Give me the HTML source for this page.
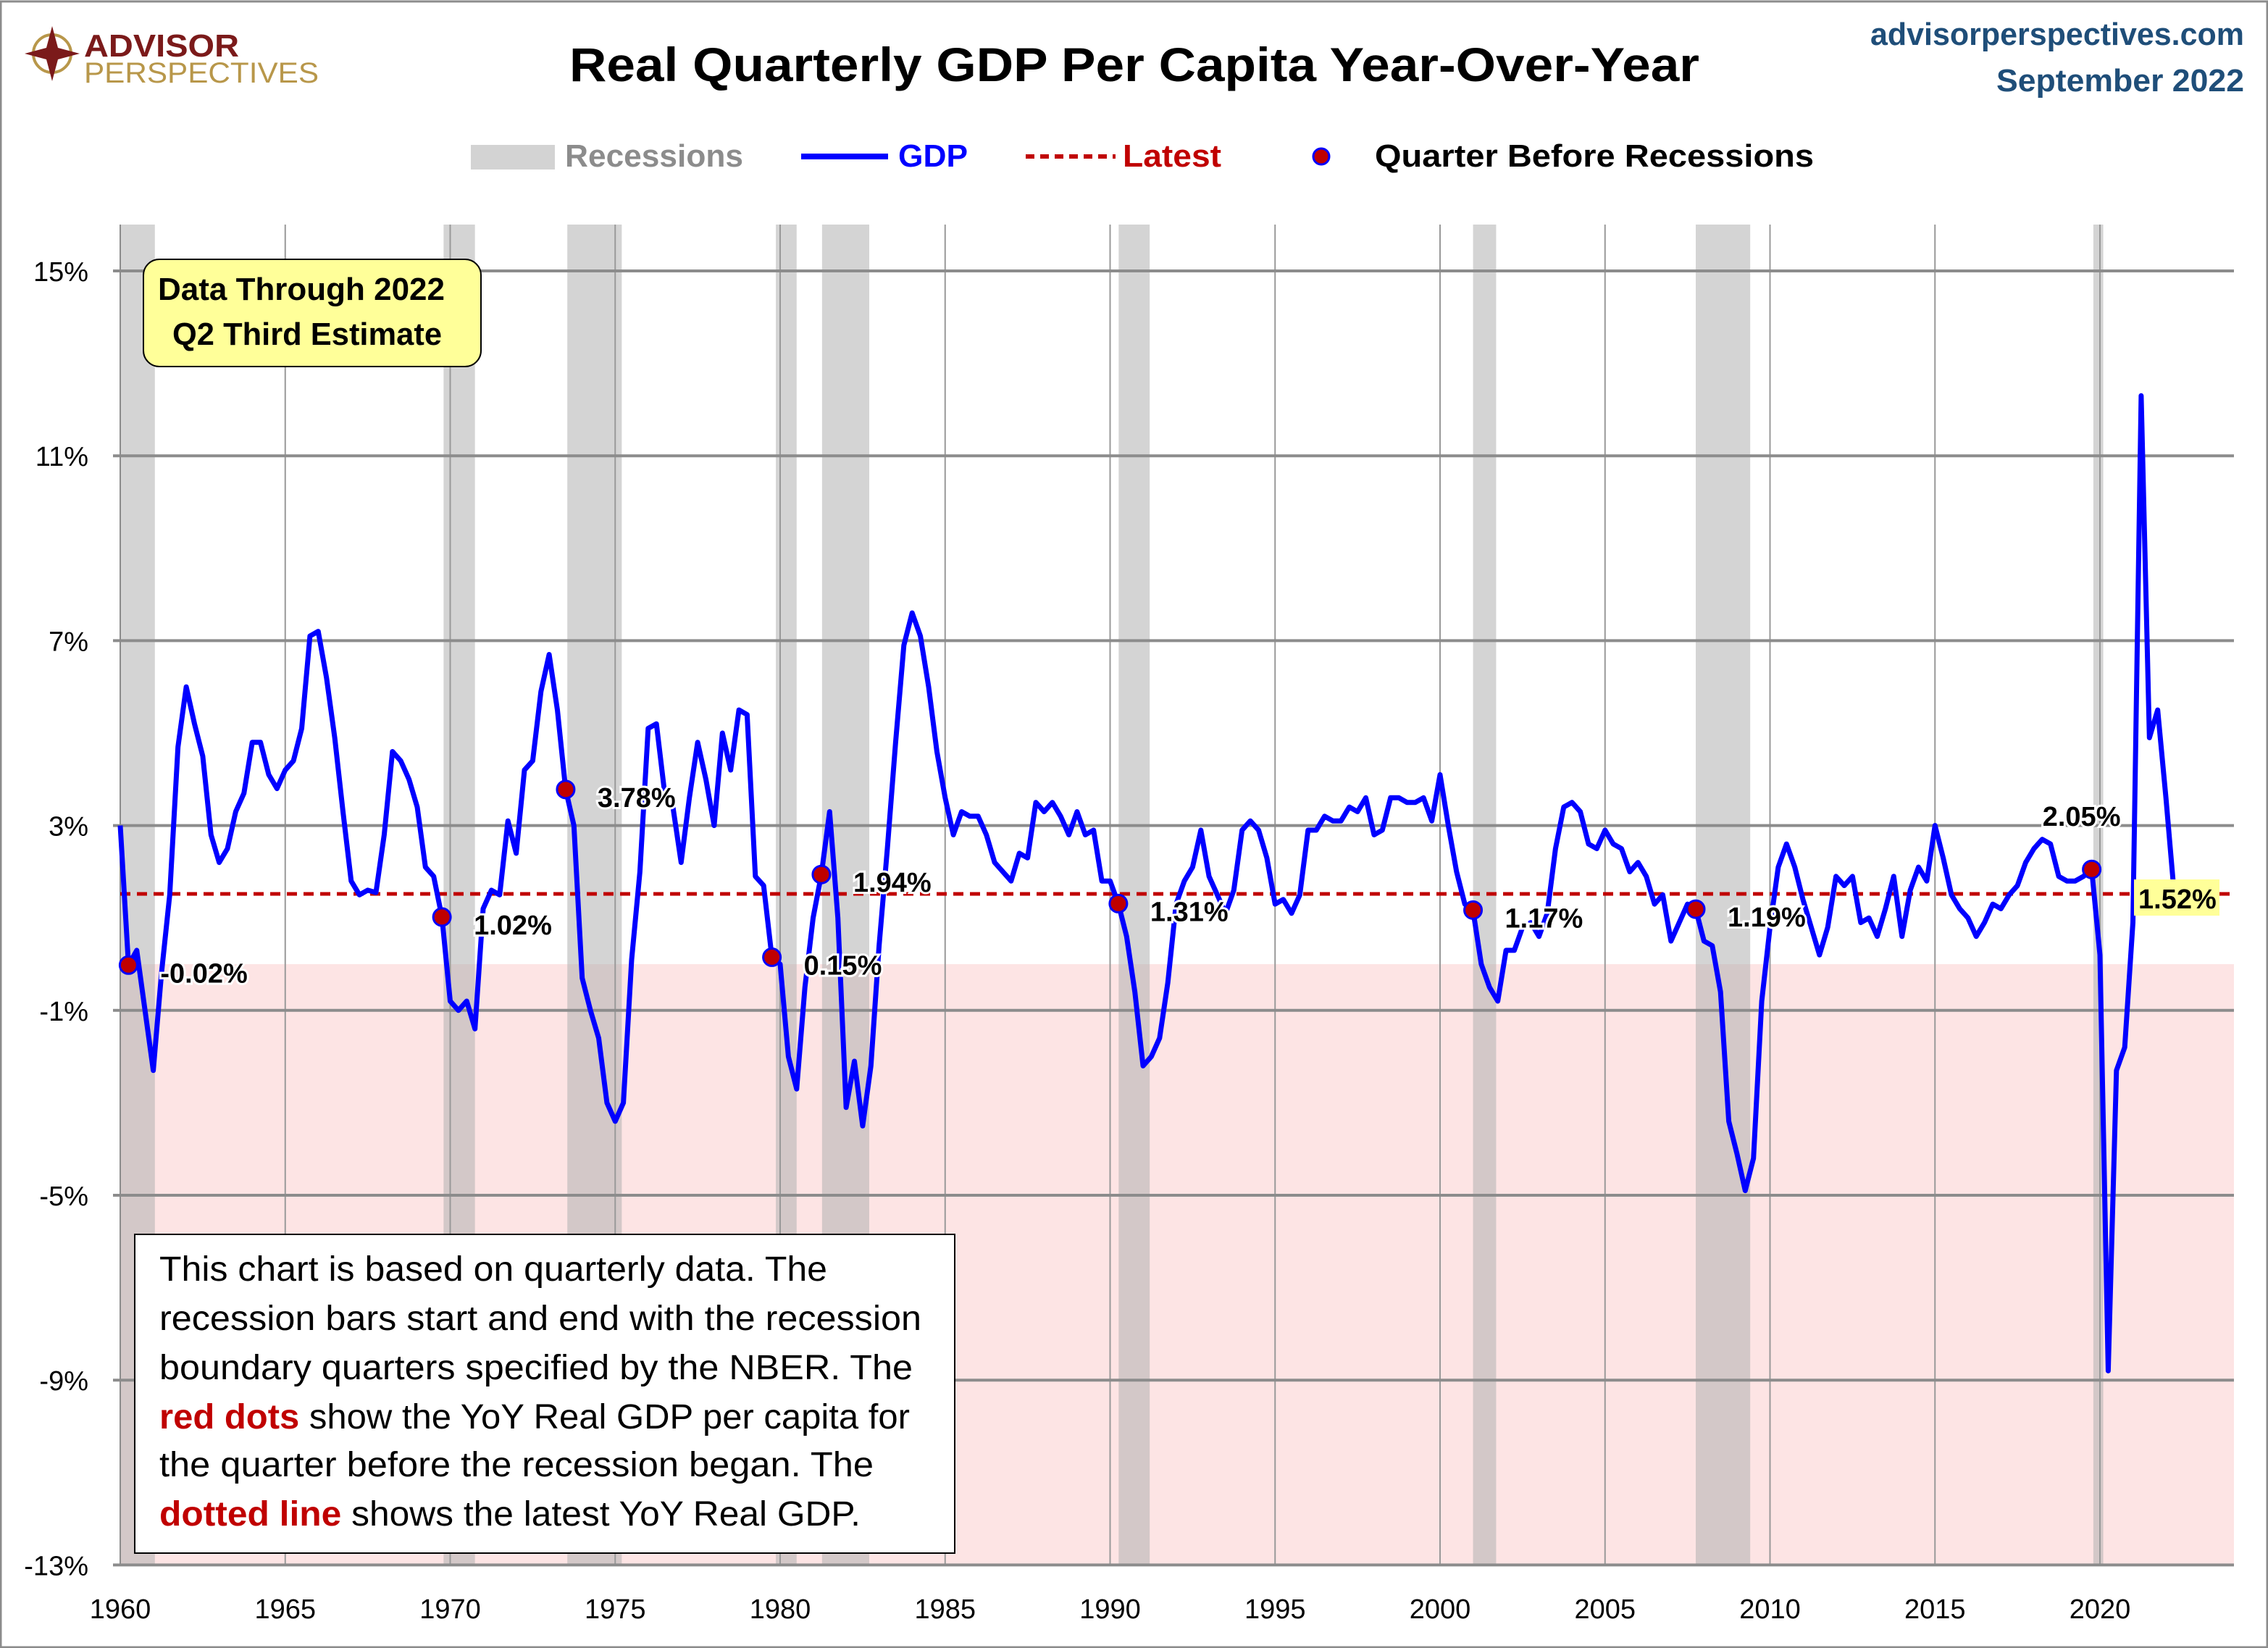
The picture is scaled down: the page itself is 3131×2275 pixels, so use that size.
<!DOCTYPE html>
<html><head><meta charset="utf-8"><style>
html,body{margin:0;padding:0;background:#fff}
svg{display:block}
text{font-family:"Liberation Sans",sans-serif}
</style></head><body>
<svg id="chart" xmlns="http://www.w3.org/2000/svg" width="3131" height="2275" viewBox="0 0 3131 2275">
<rect x="0" y="0" width="3131" height="2275" fill="#fff"/>
<rect x="1" y="2" width="3129" height="2272" fill="none" stroke="#8c8c8c" stroke-width="3"/>
<g>
  <circle cx="72" cy="74" r="26" fill="none" stroke="#b8974a" stroke-width="4"/>
  <polygon points="72,36 80,66 110,74 80,82 72,112 64,82 34,74 64,66" fill="#7b1a1a"/>
  <text x="116" y="78" font-size="44" font-weight="bold" fill="#7b1a1a" textLength="214" lengthAdjust="spacingAndGlyphs">ADVISOR</text>
  <text x="116" y="114" font-size="40" fill="#b8974a" textLength="324" lengthAdjust="spacingAndGlyphs">PERSPECTIVES</text>
</g>
<text x="1566" y="112" font-size="66" font-weight="bold" text-anchor="middle" textLength="1560" lengthAdjust="spacingAndGlyphs" fill="#000">Real Quarterly GDP Per Capita Year-Over-Year</text>
<text x="3098" y="62" font-size="44" font-weight="bold" text-anchor="end" fill="#1f4e79" textLength="516" lengthAdjust="spacingAndGlyphs">advisorperspectives.com</text>
<text x="3098" y="126" font-size="44" font-weight="bold" text-anchor="end" fill="#1f4e79" textLength="342" lengthAdjust="spacingAndGlyphs">September 2022</text>
<g>
  <g>
    <rect x="650" y="200" width="116" height="34" fill="#d3d3d3"/>
    <text x="780" y="230" font-size="44" font-weight="bold" fill="#8c8c8c" textLength="246" lengthAdjust="spacingAndGlyphs">Recessions</text>
  </g>
  <g>
    <line x1="1106" y1="216" x2="1226" y2="216" stroke="#0000ff" stroke-width="8"/>
    <text x="1240" y="230" font-size="44" font-weight="bold" fill="#0000ff" textLength="96" lengthAdjust="spacingAndGlyphs">GDP</text>
  </g>
  <g>
    <line x1="1416" y1="216" x2="1540" y2="216" stroke="#c00000" stroke-width="6" stroke-dasharray="12,8"/>
    <text x="1550" y="230" font-size="44" font-weight="bold" fill="#c00000" textLength="136" lengthAdjust="spacingAndGlyphs">Latest</text>
  </g>
  <g>
    <circle cx="1824" cy="216" r="11" fill="#c00000" stroke="#0000ff" stroke-width="3"/>
    <text x="1898" y="230" font-size="44" font-weight="bold" fill="#000" textLength="606" lengthAdjust="spacingAndGlyphs">Quarter Before Recessions</text>
  </g>
</g>
<g id="plot"></g>
<g>
  <rect x="198" y="358" width="466" height="148" rx="22" fill="#ffff99" stroke="#000" stroke-width="2"/>
  <text x="416" y="414" font-size="44" font-weight="bold" text-anchor="middle" textLength="396" lengthAdjust="spacingAndGlyphs">Data Through 2022</text>
  <text x="424" y="476" font-size="44" font-weight="bold" text-anchor="middle" textLength="372" lengthAdjust="spacingAndGlyphs">Q2 Third Estimate</text>
</g>
<g>
  <rect x="186" y="1704" width="1132" height="440" fill="#fff" stroke="#000" stroke-width="2"/>
  <text x="220" y="1768" font-size="48" textLength="922" lengthAdjust="spacingAndGlyphs">This chart is based on quarterly data. The</text>
  <text x="220" y="1836" font-size="48" textLength="1052" lengthAdjust="spacingAndGlyphs">recession bars start and end with the recession</text>
  <text x="220" y="1904" font-size="48" textLength="1040" lengthAdjust="spacingAndGlyphs">boundary quarters specified by the  NBER. The</text>
  <text x="220" y="1972" font-size="48" textLength="1036" lengthAdjust="spacingAndGlyphs"><tspan font-weight="bold" fill="#c00000">red dots</tspan> show the YoY Real GDP per capita for</text>
  <text x="220" y="2038" font-size="48" textLength="986" lengthAdjust="spacingAndGlyphs">the quarter before the recession began. The</text>
  <text x="220" y="2106" font-size="48" textLength="968" lengthAdjust="spacingAndGlyphs"><tspan font-weight="bold" fill="#c00000">dotted line</tspan>  shows the latest YoY Real GDP.</text>
</g>
</svg>
<script>
const gdpValues = [
3.0,-0.02,0.3,-1.0, -2.3,-0.2,1.5,4.7, 6.0,5.2,4.5,2.8, 2.2,2.5,3.3,3.7,
4.8,4.8,4.1,3.8, 4.2,4.4,5.1,7.1, 7.2,6.2,4.9,3.3, 1.8,1.5,1.6,1.55,
2.8,4.6,4.4,4.0, 3.4,2.1,1.9,1.02, -0.8,-1.0,-0.8,-1.4, 1.2,1.6,1.5,3.1,
2.4,4.2,4.4,5.9, 6.7,5.5,3.78,3.0, -0.3,-1.0,-1.6,-3.0, -3.4,-3.0,0.1,2.0,
5.1,5.2,3.7,3.4, 2.2,3.6,4.8,4.0, 3.0,5.0,4.2,5.5, 5.4,1.9,1.7,0.15,
0.0,-2.0,-2.7,-0.5, 1.0,1.94,3.3,1.0, -3.1,-2.1,-3.5,-2.2, 0.4,2.5,4.8,6.9,
7.6,7.1,6.0,4.6, 3.6,2.8,3.3,3.2, 3.2,2.8,2.2,2.0, 1.8,2.4,2.3,3.5,
3.3,3.5,3.2,2.8, 3.3,2.8,2.9,1.8, 1.8,1.31,0.6,-0.6, -2.2,-2.0,-1.6,-0.4,
1.3,1.8,2.1,2.9, 1.9,1.5,1.1,1.6, 2.9,3.1,2.9,2.3, 1.3,1.4,1.1,1.5,
2.9,2.9,3.2,3.1, 3.1,3.4,3.3,3.6, 2.8,2.9,3.6,3.6, 3.5,3.5,3.6,3.1,
4.1,3.0,2.0,1.3, 1.17,0.0,-0.5,-0.8, 0.3,0.3,0.8,0.9, 0.6,1.1,2.5,3.4,
3.5,3.3,2.6,2.5, 2.9,2.6,2.5,2.0, 2.2,1.9,1.3,1.5, 0.5,0.9,1.3,1.19,
0.5,0.4,-0.6,-3.4, -4.1,-4.9,-4.2,-0.8, 0.8,2.1,2.6,2.1, 1.4,0.8,0.2,0.8,
1.9,1.7,1.9,0.9, 1.0,0.6,1.2,1.9, 0.6,1.6,2.1,1.8, 3.0,2.3,1.5,1.2,
1.0,0.6,0.9,1.3, 1.2,1.5,1.7,2.2, 2.5,2.7,2.6,1.9, 1.8,1.8,1.9,2.05,
0.2,-8.8,-2.3,-1.8, 0.9,12.3,4.9,5.5, 3.6,1.52];
const startYear = 1960;
const recessionStarts = [1960.0,1969.8,1973.55,1979.87,1981.27,1990.26,2001.0,2007.75,2019.8];
const recessionEnds   = [1961.05,1970.75,1975.2,1980.5,1982.7,1991.2,2001.7,2009.4,2020.1];
const dotYears = [1960.25,1969.75,1973.5,1979.75,1981.25,1990.25,2001.0,2007.75,2019.75];
const dotValues = [-0.02,1.02,3.78,0.15,1.94,1.31,1.17,1.19,2.05];
const dotLabels = ["-0.02%","1.02%","3.78%","0.15%","1.94%","1.31%","1.17%","1.19%","2.05%"];
const latestValue = 1.52;
const latestLabel = "1.52%";
const yTicks = [15,11,7,3,-1,-5,-9,-13];
const xTicks = [1960,1965,1970,1975,1980,1985,1990,1995,2000,2005,2010,2015,2020];

const NS="http://www.w3.org/2000/svg";
const L=166,R=3084,T=310,B=2160;
const xs=yr=>L+(yr-1960)*45.55;
const ys=v=>374+(15-v)*63.8;
const plot=document.getElementById('plot');
function mk(tag,attrs,parent){const e=document.createElementNS(NS,tag);for(const k in attrs)e.setAttribute(k,attrs[k]);(parent||plot).appendChild(e);return e;}

const pink=mk('rect',{x:L,y:ys(0),width:R-L,height:B-ys(0),fill:'#fde4e4'});


recessionStarts.forEach((s,i)=>{
  const r=mk('rect',{x:xs(s),y:T,width:xs(recessionEnds[i])-xs(s),height:B-T,fill:'#b0b0b0','fill-opacity':0.55});
  
  
});
xTicks.forEach(t=>{
  const g=mk('line',{x1:xs(t),y1:T,x2:xs(t),y2:B,stroke:'#999',"stroke-width":2});
  
  
  const tx=mk('text',{x:xs(t),y:2234,'font-size':38,'text-anchor':'middle',fill:'#000'});
  tx.textContent=t;
  
  
});
yTicks.forEach(t=>{
  const g=mk('line',{x1:156,y1:ys(t),x2:R,y2:ys(t),stroke:'#8c8c8c',"stroke-width":4});
  
  
  const tx=mk('text',{x:122,y:ys(t)+14,'font-size':38,'text-anchor':'end',fill:'#000'});
  tx.textContent=t+'%';
  
  
});
const ax=mk('line',{x1:L,y1:T,x2:L,y2:B,stroke:'#8c8c8c','stroke-width':2});



const latest=mk('line',{x1:L,y1:ys(latestValue),x2:R,y2:ys(latestValue),stroke:'#c00000','stroke-width':5,'stroke-dasharray':'14,9'});



const pts=gdpValues.map((v,i)=>xs(startYear+i*0.25).toFixed(1)+','+ys(v).toFixed(1)).join(' ');
const line=mk('polyline',{points:pts,fill:'none',stroke:'#0000ff','stroke-width':7,'stroke-linejoin':'round'});



dotYears.forEach((yr,i)=>{
  const cx=xs(yr),cy=ys(dotValues[i]);
  const c=mk('circle',{cx:cx,cy:cy,r:12,fill:'#c00000',stroke:'#0000ff','stroke-width':3});
  
  
  const last=i===dotYears.length-1;
  const t=mk('text',{x:last?cx-14:cx+44,y:last?cy-60:cy+24,'font-size':38,'font-weight':'bold','text-anchor':last?'middle':'start',fill:'#000',stroke:'#fff','stroke-width':6,'paint-order':'stroke'});
  t.textContent=dotLabels[i];
  
  
});
const lb=mk('rect',{x:2946,y:ys(latestValue)-20,width:118,height:50,fill:'#ffff99'});


const lt=mk('text',{x:2952,y:ys(latestValue)+20,'font-size':38,'font-weight':'bold',fill:'#000'});
lt.textContent=latestLabel;


</script>
</body></html>
